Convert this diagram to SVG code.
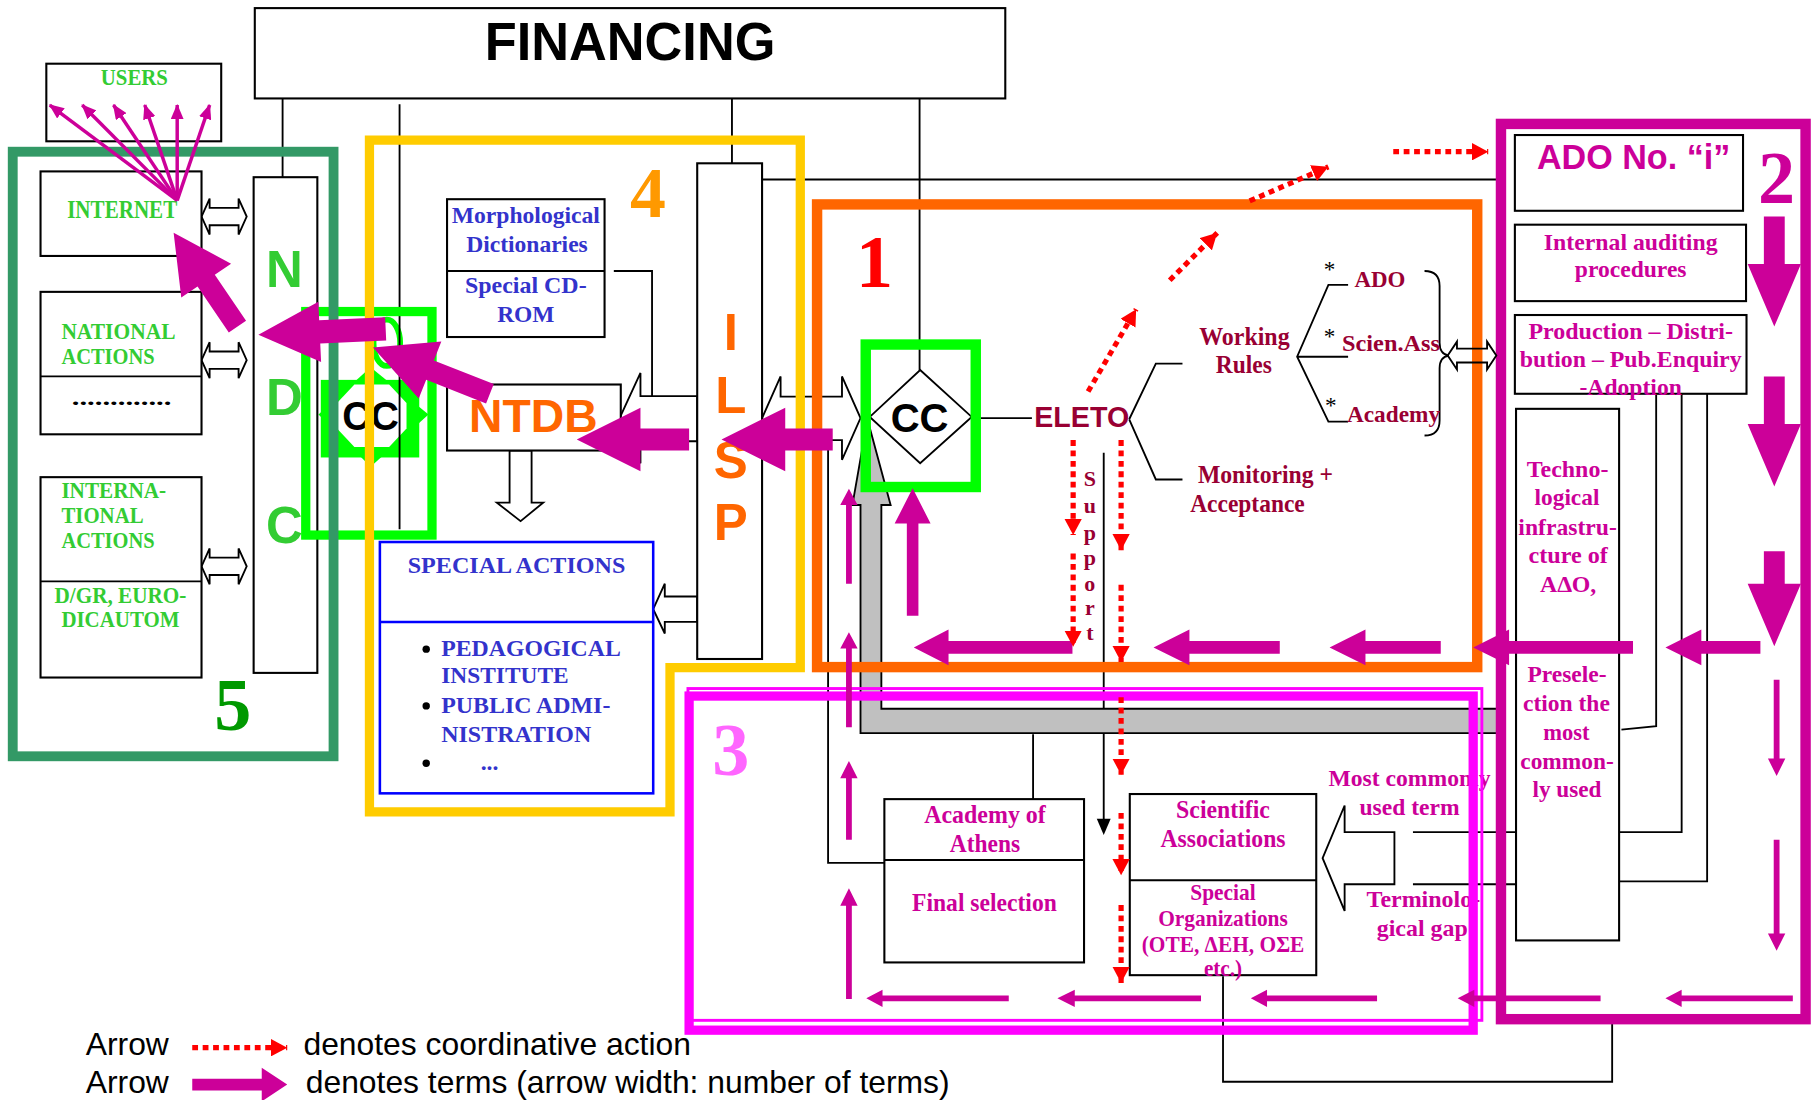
<svg xmlns="http://www.w3.org/2000/svg" width="1816" height="1100" viewBox="0 0 1816 1100">
<style>
.sb{font-family:"Liberation Serif","Times New Roman",serif;font-weight:bold}
.ss{font-family:"Liberation Sans",Arial,sans-serif;font-weight:bold}
.sr{font-family:"Liberation Sans",Arial,sans-serif}
.ln{fill:none;stroke:#000;stroke-width:1.6}
.bx{fill:#fff;stroke:#000;stroke-width:1.8}
.ho{fill:#fff;stroke:#000;stroke-width:1.6}
.mg{fill:#cc0099}
.rd{fill:none;stroke:#ff0000;stroke-width:4.5;stroke-dasharray:5 4;marker-end:url(#rh)}
.gt{fill:#33cc33}
.bt{fill:#3333cc}
.dr{fill:#990033}
.mt{fill:#cc0099}
.fr{fill:none}
</style>
<defs>
<marker id="rh" markerUnits="userSpaceOnUse" markerWidth="15" markerHeight="15" refX="14" refY="7.5" orient="auto"><path d="M0,0 L14,7.5 L0,15 z" fill="#ff0000"/></marker>
<marker id="mh" markerUnits="userSpaceOnUse" markerWidth="13" markerHeight="11" refX="12" refY="5.5" orient="auto"><path d="M0,0 L13,5.5 L0,11 z" fill="#cc0099"/></marker>
</defs>
<rect width="1816" height="1100" fill="#fff"/>
<g transform="scale(1.15816)">

<g id="cc-ndc">
<polygon points="320,317 370,358 320,403 275,358" fill="#00ff00"/>
<rect x="277" y="328" width="85" height="67" fill="#00ff00"/>
<polygon points="291,348 306,332 336,332 351,348 351,370 336,386 306,386 291,370" fill="#fff"/>
<ellipse cx="334" cy="296" rx="11.5" ry="20" fill="none" stroke="#00ff00" stroke-width="5"/>
<text class="ss" x="320" y="371" font-size="35" text-anchor="middle" textLength="49" lengthAdjust="spacingAndGlyphs">CC</text>
</g>

<g id="connectors">
<path class="ln" d="M244,85 V153 M345,90 V457 M632,85 V141 M794,85 V320 M658,155 H1292"/>
<path class="ln" d="M530,234 H563 V342"/>
<path class="ln" d="M715,380 V745 H764 M892,634 V690"/>
<path class="ln" d="M953,391 V710"/>
<polygon points="947,707 959,707 953,721" fill="#000"/>
<path class="ln" d="M1056,843 V934 H1392 V884"/>
<path class="ln" d="M1400,630 L1430,627 V340 M1398,718.5 H1452 V340 M1398,761 H1474 V340 M1220,718.5 H1309 M1220,763.5 H1309"/>
<path class="ln" d="M847,361 H891 M975,362 L998,314 H1021 M975,362 L998,414 H1021"/>
<path class="ln" d="M1164,246 H1147 L1120,308 L1147,364 H1164 M1120,308 H1164"/>
<path class="ln" d="M1230,234 Q1243,234 1243,247 L1243,296 Q1243,306 1251,307 Q1243,308 1243,318 L1243,363 Q1243,376 1230,376"/>
<polygon points="749,362 769,436 761,436 761,612 1296,612 1296,633 743,633 743,436 736,436" fill="#c0c0c0" stroke="#000" stroke-width="1.6"/>
<polygon class="ho" points="174,187 181,171.5 181,179.5 206,179.5 206,171.5 213,187 206,202.5 206,194.5 181,194.5 181,202.5"/>
<polygon class="ho" points="174,311 181,295.5 181,303.5 206,303.5 206,295.5 213,311 206,326.5 206,318.5 181,318.5 181,326.5"/>
<polygon class="ho" points="174,489 181,473.5 181,481.5 206,481.5 206,473.5 213,489 206,504.5 206,496.5 181,496.5 181,504.5"/>
<polygon class="ho" points="658,361 674,325 674,342.5 727,342.5 727,325 743,361 727,397 727,380 674,380 674,397"/>
<polygon class="ho" points="535,361 553,322 553,342 602,342 602,381 553,381 553,400"/>
<polygon class="ho" points="564,526 574,504 574,515 602,515 602,537 574,537 574,547"/>
<polygon class="ho" points="440,389 459,389 459,434 469,434 449.5,450 429,434 440,434"/>
<polygon class="ho" points="1142,741 1161,695.5 1161,718.5 1204,718.5 1204,763.5 1161,763.5 1161,786.5"/>
</g>

<g id="financing">
<rect class="bx" x="220" y="7" width="648" height="78"/>
<text class="ss" x="544" y="51.8" font-size="46" text-anchor="middle" textLength="251" lengthAdjust="spacingAndGlyphs">FINANCING</text>
</g>

<g id="users">
<rect class="bx" x="40" y="55" width="151" height="67"/>
<text class="sb gt" x="116" y="73" font-size="19.5" text-anchor="middle" textLength="58" lengthAdjust="spacingAndGlyphs">USERS</text>
</g>
<g id="internet">
<rect class="bx" x="35" y="148" width="139" height="73"/>
<text class="sb gt" x="105.5" y="188" font-size="21" text-anchor="middle" textLength="95" lengthAdjust="spacingAndGlyphs">INTERNET</text>
</g>
<g id="national">
<rect class="bx" x="35" y="252" width="139" height="123"/>
<line class="ln" x1="35" y1="325" x2="174" y2="325"/>
<text class="sb gt" font-size="19.5"><tspan x="53" y="293" textLength="98.5" lengthAdjust="spacingAndGlyphs">NATIONAL</tspan><tspan x="53" y="314" textLength="80.6" lengthAdjust="spacingAndGlyphs">ACTIONS</tspan></text>
<text class="sb" x="62" y="350" font-size="18" textLength="86" lengthAdjust="spacingAndGlyphs">.............</text>
</g>
<g id="international">
<rect class="bx" x="35" y="412" width="139" height="173"/>
<line class="ln" x1="35" y1="502" x2="174" y2="502"/>
<text class="sb gt" font-size="19.5"><tspan x="53" y="430" textLength="90.5" lengthAdjust="spacingAndGlyphs">INTERNA-</tspan><tspan x="53" y="452" textLength="71" lengthAdjust="spacingAndGlyphs">TIONAL</tspan><tspan x="53" y="473" textLength="80.6" lengthAdjust="spacingAndGlyphs">ACTIONS</tspan></text>
<text class="sb gt" font-size="19.5"><tspan x="47" y="521" textLength="114" lengthAdjust="spacingAndGlyphs">D/GR, EURO-</tspan><tspan x="53" y="541.5" textLength="102" lengthAdjust="spacingAndGlyphs">DICAUTOM</tspan></text>
</g>
<g id="ndc">
<rect class="bx" x="219" y="153" width="55" height="428"/>
<text class="ss gt" font-size="44" text-anchor="middle"><tspan x="245.5" y="248">N</tspan><tspan x="245.5" y="358">D</tspan><tspan x="245.5" y="469">C</tspan></text>
</g>

<g id="morph">
<rect class="bx" x="386" y="172" width="136" height="119"/>
<line class="ln" x1="386" y1="234" x2="522" y2="234"/>
<text class="sb bt" font-size="20.5" text-anchor="middle"><tspan x="454" y="192.5" textLength="128" lengthAdjust="spacingAndGlyphs">Morphological</tspan><tspan x="455" y="217.6" textLength="105" lengthAdjust="spacingAndGlyphs">Dictionaries</tspan><tspan x="454" y="253" textLength="105" lengthAdjust="spacingAndGlyphs">Special CD-</tspan><tspan x="454" y="278" textLength="49.5" lengthAdjust="spacingAndGlyphs">ROM</tspan></text>
</g>
<g id="ntdb">
<rect class="bx" x="386" y="332" width="150" height="57"/>
<text class="ss" x="405" y="373" font-size="40" fill="#ff6600" textLength="111" lengthAdjust="spacingAndGlyphs">NTDB</text>
</g>
<g id="special-actions">
<rect x="328" y="468" width="236" height="217" fill="#fff" stroke="#0000ff" stroke-width="2.2"/>
<line x1="328" y1="537" x2="564" y2="537" stroke="#0000ff" stroke-width="2.2"/>
<text class="sb bt" x="446" y="495" font-size="19.5" text-anchor="middle" textLength="188" lengthAdjust="spacingAndGlyphs">SPECIAL ACTIONS</text>
<circle cx="368" cy="560.5" r="3.2"/><circle cx="368" cy="609.5" r="3.2"/><circle cx="368" cy="659" r="3.2"/>
<text class="sb bt" font-size="20.5"><tspan x="381" y="566.6" textLength="155" lengthAdjust="spacingAndGlyphs">PEDAGOGICAL</tspan><tspan x="381" y="590" textLength="110" lengthAdjust="spacingAndGlyphs">INSTITUTE</tspan><tspan x="381" y="616" textLength="146" lengthAdjust="spacingAndGlyphs">PUBLIC ADMI-</tspan><tspan x="381" y="640.5" textLength="129.5" lengthAdjust="spacingAndGlyphs">NISTRATION</tspan><tspan x="415" y="665">...</tspan></text>
</g>
<g id="ilsp">
<rect class="bx" x="602" y="141" width="56" height="428"/>
<text class="ss" font-size="44" fill="#ff6600" text-anchor="middle"><tspan x="631" y="302">I</tspan><tspan x="631" y="357">L</tspan><tspan x="631" y="413">S</tspan><tspan x="631" y="466">P</tspan></text>
</g>

<g id="cc-ilsp">
<polygon points="794.5,319.5 839,360 794.5,400 751,360" fill="#fff" stroke="#000" stroke-width="1.6"/>
<text class="ss" x="794" y="373" font-size="35" text-anchor="middle" textLength="50" lengthAdjust="spacingAndGlyphs">CC</text>
</g>
<g id="eleto">
<text class="ss dr" x="893" y="368.5" font-size="25" textLength="82" lengthAdjust="spacingAndGlyphs">ELETO</text>
<text class="sb dr" font-size="21" text-anchor="middle"><tspan x="1074.5" y="298" textLength="78" lengthAdjust="spacingAndGlyphs">Working</tspan><tspan x="1074" y="322" textLength="48.4" lengthAdjust="spacingAndGlyphs">Rules</tspan></text>
<text class="sb dr" font-size="21"><tspan x="1034.3" y="417" textLength="116.7" lengthAdjust="spacingAndGlyphs">Monitoring +</tspan><tspan x="1027.6" y="442" textLength="99" lengthAdjust="spacingAndGlyphs">Acceptance</tspan></text>
<text class="sb dr" font-size="19.6"><tspan x="1169.5" y="248" textLength="44" lengthAdjust="spacingAndGlyphs">ADO</tspan><tspan x="1158.8" y="303" textLength="84.5" lengthAdjust="spacingAndGlyphs">Scien.Ass</tspan><tspan x="1163" y="364.5" textLength="80.4" lengthAdjust="spacingAndGlyphs">Academy</tspan></text>
<text font-family="Liberation Serif, serif" font-size="20" text-anchor="middle"><tspan x="1148" y="239">*</tspan><tspan x="1148" y="297">*</tspan><tspan x="1149" y="357">*</tspan></text>
<text class="sb dr" font-size="19" text-anchor="middle"><tspan x="941" y="420">S</tspan><tspan x="941" y="443">u</tspan><tspan x="941" y="466">p</tspan><tspan x="941" y="488">p</tspan><tspan x="941" y="510">o</tspan><tspan x="941" y="531">r</tspan><tspan x="941" y="553">t</tspan></text>
</g>

<g id="ado">
<rect class="bx" x="1308" y="116.6" width="197" height="65.4"/>
<text class="ss mt" x="1410.5" y="146" font-size="30" text-anchor="middle" textLength="167" lengthAdjust="spacingAndGlyphs">ADO No. “i”</text>
</g>
<g id="auditing">
<rect class="bx" x="1308" y="194" width="199.6" height="66"/>
<text class="sb mt" font-size="20.5" text-anchor="middle"><tspan x="1408" y="216" textLength="150" lengthAdjust="spacingAndGlyphs">Internal auditing</tspan><tspan x="1408" y="239" textLength="96.5" lengthAdjust="spacingAndGlyphs">procedures</tspan></text>
</g>
<g id="production">
<rect class="bx" x="1308" y="272" width="200" height="68"/>
<text class="sb mt" font-size="20.5" text-anchor="middle"><tspan x="1408" y="292.6" textLength="176.6" lengthAdjust="spacingAndGlyphs">Production – Distri-</tspan><tspan x="1408" y="316.6" textLength="191.5" lengthAdjust="spacingAndGlyphs">bution – Pub.Enquiry</tspan><tspan x="1408" y="341" textLength="88.4" lengthAdjust="spacingAndGlyphs">-Adoption</tspan></text>
</g>
<g id="techno">
<rect class="bx" x="1309" y="353" width="89" height="459"/>
<text class="sb mt" font-size="20.5" text-anchor="middle"><tspan x="1353.5" y="412" textLength="70.5" lengthAdjust="spacingAndGlyphs">Techno-</tspan><tspan x="1353" y="436" textLength="56" lengthAdjust="spacingAndGlyphs">logical</tspan><tspan x="1353.5" y="462" textLength="85" lengthAdjust="spacingAndGlyphs">infrastru-</tspan><tspan x="1354" y="486" textLength="68.5" lengthAdjust="spacingAndGlyphs">cture of</tspan><tspan x="1354" y="511" textLength="48.4" lengthAdjust="spacingAndGlyphs">ΑΔΟ,</tspan><tspan x="1353" y="589" textLength="68.3" lengthAdjust="spacingAndGlyphs">Presele-</tspan><tspan x="1352.5" y="614" textLength="75" lengthAdjust="spacingAndGlyphs">ction the</tspan><tspan x="1352.5" y="639" textLength="40" lengthAdjust="spacingAndGlyphs">most</tspan><tspan x="1353" y="664" textLength="80.6" lengthAdjust="spacingAndGlyphs">common-</tspan><tspan x="1353" y="688" textLength="59.6" lengthAdjust="spacingAndGlyphs">ly used</tspan></text>
</g>
<g id="academy">
<rect class="bx" x="763.6" y="690" width="172.4" height="141"/>
<line class="ln" x1="763.6" y1="742.6" x2="936" y2="742.6"/>
<text class="sb mt" font-size="21" text-anchor="middle"><tspan x="850.5" y="710.8" textLength="105" lengthAdjust="spacingAndGlyphs">Academy of</tspan><tspan x="850.5" y="735.4" textLength="60.7" lengthAdjust="spacingAndGlyphs">Athens</tspan><tspan x="850" y="787" textLength="125" lengthAdjust="spacingAndGlyphs">Final selection</tspan></text>
</g>
<g id="scientific">
<rect class="bx" x="975.5" y="685.6" width="161" height="156.4"/>
<line class="ln" x1="975.5" y1="760" x2="1136.5" y2="760"/>
<text class="sb mt" font-size="21" text-anchor="middle"><tspan x="1056" y="706.6" textLength="81" lengthAdjust="spacingAndGlyphs">Scientific</tspan><tspan x="1056" y="731.5" textLength="108" lengthAdjust="spacingAndGlyphs">Associations</tspan></text>
<text class="sb mt" font-size="19.5" text-anchor="middle"><tspan x="1056" y="777" textLength="56.5" lengthAdjust="spacingAndGlyphs">Special</tspan><tspan x="1056" y="799.6" textLength="112" lengthAdjust="spacingAndGlyphs">Organizations</tspan><tspan x="1056" y="821.8" textLength="140.5" lengthAdjust="spacingAndGlyphs">(OTE, ΔΕΗ, ΟΣΕ</tspan><tspan x="1056" y="843" textLength="33" lengthAdjust="spacingAndGlyphs">etc.)</tspan></text>
</g>
<g id="terms">
<text class="sb mt" font-size="19.5" text-anchor="middle"><tspan x="1217" y="679" textLength="140" lengthAdjust="spacingAndGlyphs">Most commonly</tspan><tspan x="1217" y="704" textLength="86.4" lengthAdjust="spacingAndGlyphs">used term</tspan><tspan x="1229" y="783" textLength="98" lengthAdjust="spacingAndGlyphs">Terminolo-</tspan><tspan x="1228" y="808" textLength="78.6" lengthAdjust="spacingAndGlyphs">gical gap</tspan></text>
</g>

<g id="frames">
<rect class="fr" x="264" y="269" width="109" height="193" stroke="#00ff00" stroke-width="8"/>
<rect class="fr" x="747.5" y="297.5" width="95" height="123" stroke="#00ff00" stroke-width="9"/>
<rect class="fr" x="11" y="131" width="277" height="522" stroke="#339966" stroke-width="8.5"/>
<polygon class="fr" points="319,121 691,121 691,576.5 578.5,576.5 578.5,701 319,701" stroke="#ffcc00" stroke-width="8"/>
<rect class="fr" x="705.5" y="176.5" width="570" height="399.5" stroke="#ff6600" stroke-width="9"/>
<rect class="fr" x="594" y="594.5" width="685.5" height="286.5" stroke="#ff00ff" stroke-width="2.5"/>
<rect class="fr" x="595" y="601" width="677" height="288.5" stroke="#ff00ff" stroke-width="8"/>
<rect class="fr" x="1296" y="107" width="263" height="773" stroke="#cc0099" stroke-width="9"/>
<polygon points="1250,307 1258,295 1258,301 1284,301 1284,295 1292,307 1284,319 1284,313 1258,313 1258,319" fill="none" stroke="#000" stroke-width="1.6"/>
<text class="sb" x="201" y="630" font-size="64" fill="#009900" text-anchor="middle">5</text>
<text class="sb" x="559.5" y="187" font-size="62" fill="#ff9900" text-anchor="middle">4</text>
<text class="sb" x="755" y="248" font-size="64" fill="#ff0000" text-anchor="middle">1</text>
<text class="sb" x="1534" y="175" font-size="64" fill="#cc0099" text-anchor="middle">2</text>
<text class="sb" x="631" y="669" font-size="64" fill="#ff66ff" text-anchor="middle">3</text>
</g>

<g id="flows">
<g stroke="#cc0099" stroke-width="3" marker-end="url(#mh)">
<line x1="153" y1="173" x2="43" y2="90.7"/><line x1="153" y1="173" x2="71" y2="90.7"/><line x1="153" y1="173" x2="98" y2="90.7"/><line x1="153" y1="173" x2="125" y2="90.7"/><line x1="153" y1="173" x2="153" y2="90.7"/><line x1="153" y1="173" x2="181" y2="90.7"/>
</g>
<polygon class="mg" transform="translate(205,282) rotate(-124.2)" points="0,-9 48,-9 48,-26 98,0 48,26 48,9 0,9"/>
<polygon class="mg" transform="translate(333,284) rotate(177.4)" points="0,-10 57,-10 57,-26 110,0 57,26 57,10 0,10"/>
<polygon class="mg" transform="translate(423,340) rotate(-158.4)" points="0,-9 55.6,-9 55.6,-26.5 108.6,0 55.6,26.5 55.6,9 0,9"/>
<polygon class="mg" points="595,370 553,370 553,352 498,379.5 553,407 553,389 595,389"/>
<polygon class="mg" points="719,370 678,370 678,352 623,379.5 678,407 678,389 719,389"/>
<polygon class="mg" points="1520,553.5 1469,553.5 1469,543.5 1438,559 1469,574.5 1469,564.5 1520,564.5"/>
<polygon class="mg" points="1410,553.5 1303,553.5 1303,543.5 1272,559 1303,574.5 1303,564.5 1410,564.5"/>
<polygon class="mg" points="1244,553.5 1179,553.5 1179,543.5 1148,559 1179,574.5 1179,564.5 1244,564.5"/>
<polygon class="mg" points="1105,553.5 1027,553.5 1027,543.5 996,559 1027,574.5 1027,564.5 1105,564.5"/>
<polygon class="mg" points="926,553.5 819,553.5 819,543.5 789,559 819,574.5 819,564.5 926,564.5"/>
<polygon class="mg" points="1523,187 1541,187 1541,228 1555,228 1532,282 1509,228 1523,228"/>
<polygon class="mg" points="1523,325 1541,325 1541,366 1555,366 1532,420 1509,366 1523,366"/>
<polygon class="mg" points="1523,476 1541,476 1541,504 1555,504 1532,558 1509,504 1523,504"/>
<polygon class="mg" points="1531.5,587 1536.5,587 1536.5,655 1541.5,655 1534,670 1526.5,655 1531.5,655"/>
<polygon class="mg" points="1531.5,725 1536.5,725 1536.5,806 1541.5,806 1534,821 1526.5,806 1531.5,806"/>
<polygon class="mg" points="871,859.5 762,859.5 762,854.5 748,862 762,869.5 762,864.5 871,864.5"/>
<polygon class="mg" points="1037,859.5 928,859.5 928,854.5 913,862 928,869.5 928,864.5 1037,864.5"/>
<polygon class="mg" points="1189,859.5 1094,859.5 1094,854.5 1080,862 1094,869.5 1094,864.5 1189,864.5"/>
<polygon class="mg" points="1382,859.5 1273,859.5 1273,854.5 1258.6,862 1273,869.5 1273,864.5 1382,864.5"/>
<polygon class="mg" points="1548,859.5 1452,859.5 1452,854.5 1438,862 1452,869.5 1452,864.5 1548,864.5"/>
<polygon class="mg" points="730.5,504 730.5,436 725.5,436 733,422 740.5,436 735.5,436 735.5,504"/>
<polygon class="mg" points="730.5,628 730.5,560 725.5,560 733,546 740.5,560 735.5,560 735.5,628"/>
<polygon class="mg" points="730.5,725 730.5,672 725.5,672 733,657 740.5,672 735.5,672 735.5,725"/>
<polygon class="mg" points="730.5,862.6 730.5,782 725.5,782 733,767 740.5,782 735.5,782 735.5,862.6"/>
<polygon class="mg" points="783,531.6 783,452 772.5,452 788,421.6 803.5,452 793,452 793,531.6"/>
<line class="rd" x1="939.5" y1="338" x2="981" y2="267"/>
<line class="rd" x1="1010" y1="242" x2="1051" y2="201"/>
<line class="rd" x1="1079" y1="173.5" x2="1147" y2="144"/>
<line class="rd" x1="1203" y1="131" x2="1285" y2="131"/>
<line class="rd" x1="926.6" y1="380" x2="926.6" y2="462"/>
<line class="rd" x1="926.6" y1="478" x2="926.6" y2="558.5"/>
<line class="rd" x1="968" y1="380" x2="968" y2="475"/>
<line class="rd" x1="968" y1="505" x2="968" y2="571.6"/>
<line class="rd" x1="968" y1="602" x2="968" y2="669"/>
<line class="rd" x1="968" y1="702" x2="968" y2="755.7"/>
<line class="rd" x1="968" y1="781.5" x2="968" y2="848.7"/>
</g>

<g id="legend">
<text class="sr" x="74" y="911" font-size="27.5">Arrow</text>
<line class="rd" x1="166" y1="904.6" x2="248" y2="904.6"/>
<text class="sr" x="262" y="911" font-size="27.5">denotes coordinative action</text>
<text class="sr" x="74" y="943.5" font-size="27.5">Arrow</text>
<polygon class="mg" points="166,931.5 226,931.5 226,922 248,936.5 226,951 226,941.5 166,941.5"/>
<text class="sr" x="264" y="943.5" font-size="27.5">denotes terms (arrow width: number of terms)</text>
</g>
</g>
</svg>
